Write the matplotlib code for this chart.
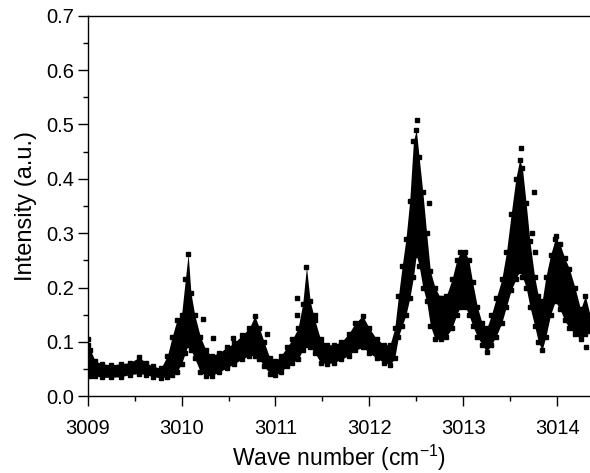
import matplotlib
matplotlib.use("Agg")
import matplotlib.pyplot as plt
from matplotlib.ticker import MultipleLocator, FormatStrFormatter

plt.rcParams['font.family'] = ['Liberation Sans', 'DejaVu Sans']
plt.rcParams['mathtext.default'] = 'regular'

# wave number and lower / upper edge of the dense band of points
wave = [3009.00, 3009.03, 3009.08, 3009.15, 3009.25, 3009.35, 3009.45, 3009.55, 3009.62, 3009.70,
        3009.78, 3009.85, 3009.90, 3009.95, 3010.00, 3010.04, 3010.07, 3010.10, 3010.14, 3010.20,
        3010.26, 3010.32, 3010.40, 3010.48, 3010.56, 3010.64, 3010.72, 3010.78, 3010.83, 3010.88,
        3010.94, 3011.00, 3011.06, 3011.12, 3011.18, 3011.24, 3011.29, 3011.33, 3011.37, 3011.42,
        3011.48, 3011.55, 3011.62, 3011.70, 3011.78, 3011.85, 3011.93, 3012.00, 3012.08, 3012.16,
        3012.22, 3012.27, 3012.31, 3012.35, 3012.39, 3012.43, 3012.47, 3012.50, 3012.53, 3012.57,
        3012.61, 3012.65, 3012.70, 3012.76, 3012.82, 3012.88, 3012.93, 3012.97, 3013.02, 3013.06,
        3013.10, 3013.15, 3013.20, 3013.25, 3013.30, 3013.35, 3013.41, 3013.46, 3013.51, 3013.56,
        3013.60, 3013.63, 3013.67, 3013.71, 3013.76, 3013.80, 3013.84, 3013.88, 3013.93, 3013.98,
        3014.03, 3014.08, 3014.13, 3014.19, 3014.25, 3014.30, 3014.35]
low = [0.040, 0.038, 0.038, 0.035, 0.035, 0.036, 0.040, 0.042, 0.040, 0.036,
       0.034, 0.036, 0.040, 0.045, 0.060, 0.080, 0.095, 0.085, 0.070, 0.045,
       0.038, 0.038, 0.045, 0.052, 0.060, 0.068, 0.075, 0.075, 0.068, 0.055,
       0.042, 0.040, 0.045, 0.055, 0.062, 0.068, 0.085, 0.095, 0.090, 0.080,
       0.062, 0.060, 0.062, 0.068, 0.075, 0.085, 0.090, 0.080, 0.070, 0.062,
       0.058, 0.070, 0.110, 0.130, 0.150, 0.180, 0.220, 0.260, 0.240, 0.200,
       0.175, 0.130, 0.105, 0.105, 0.110, 0.125, 0.150, 0.165, 0.165, 0.150,
       0.130, 0.110, 0.095, 0.082, 0.095, 0.110, 0.135, 0.165, 0.195, 0.215,
       0.230, 0.220, 0.200, 0.165, 0.130, 0.100, 0.085, 0.110, 0.150, 0.175,
       0.160, 0.140, 0.125, 0.115, 0.105, 0.115, 0.120]
high = [0.095, 0.085, 0.065, 0.060, 0.058, 0.060, 0.062, 0.072, 0.062, 0.055,
        0.052, 0.075, 0.110, 0.140, 0.150, 0.215, 0.262, 0.190, 0.150, 0.110,
        0.085, 0.075, 0.080, 0.090, 0.098, 0.112, 0.125, 0.148, 0.125, 0.100,
        0.070, 0.065, 0.075, 0.090, 0.105, 0.125, 0.170, 0.238, 0.175, 0.140,
        0.105, 0.095, 0.095, 0.100, 0.115, 0.135, 0.148, 0.125, 0.105, 0.095,
        0.095, 0.125, 0.185, 0.240, 0.290, 0.360, 0.470, 0.490, 0.440, 0.375,
        0.300, 0.230, 0.200, 0.180, 0.185, 0.215, 0.250, 0.265, 0.266, 0.250,
        0.210, 0.165, 0.135, 0.125, 0.150, 0.180, 0.215, 0.265, 0.335, 0.400,
        0.435, 0.420, 0.355, 0.285, 0.220, 0.185, 0.175, 0.220, 0.260, 0.290,
        0.280, 0.255, 0.235, 0.200, 0.160, 0.185, 0.150]

# isolated points away from the band
out_x = [3009.00, 3010.23, 3010.34, 3010.55, 3010.91, 3011.23, 3011.23, 3011.42, 3012.51,
         3012.63, 3012.75, 3013.61, 3013.75, 3013.73, 3013.76, 3013.99, 3014.31]
out_y = [0.105, 0.143, 0.108, 0.107, 0.115, 0.180, 0.150, 0.150, 0.508,
         0.356, 0.180, 0.456, 0.376, 0.300, 0.266, 0.295, 0.090]

fig = plt.figure(figsize=(5.9, 4.73), dpi=100)
ax = fig.add_axes([0.1486, 0.162, 0.8514, 0.805])

ax.fill_between(wave, low, high, color='black', linewidth=0)
ax.plot(wave, low, 's', color='black', markersize=3.2)
ax.plot(wave, high, 's', color='black', markersize=3.2)
ax.plot(out_x, out_y, 's', color='black', markersize=3.2)

ax.set_xlim(3009, 3014.35)
ax.set_ylim(0, 0.7)
ax.xaxis.set_major_locator(MultipleLocator(1))
ax.xaxis.set_minor_locator(MultipleLocator(0.5))
ax.yaxis.set_major_locator(MultipleLocator(0.1))
ax.yaxis.set_minor_locator(MultipleLocator(0.05))
ax.xaxis.set_major_formatter(FormatStrFormatter('%d'))
ax.yaxis.set_major_formatter(FormatStrFormatter('%.1f'))

ax.spines['right'].set_visible(False)
for s in ['left', 'bottom', 'top']:
    ax.spines[s].set_linewidth(1.0)
ax.tick_params(which='major', direction='out', length=7, width=1.0, labelsize=14.5,
               top=False, right=False)
ax.tick_params(axis='y', which='major', pad=3)
ax.tick_params(axis='x', which='major', pad=9)
ax.tick_params(which='minor', direction='out', length=3.5, width=1.0, top=False, right=False)

ax.set_xlabel('Wave number (cm$^{-1}$)', fontsize=16.5, labelpad=4)
ax.set_ylabel('Intensity (a.u.)', fontsize=17, labelpad=6)

fig.savefig('out.png', dpi=100)
